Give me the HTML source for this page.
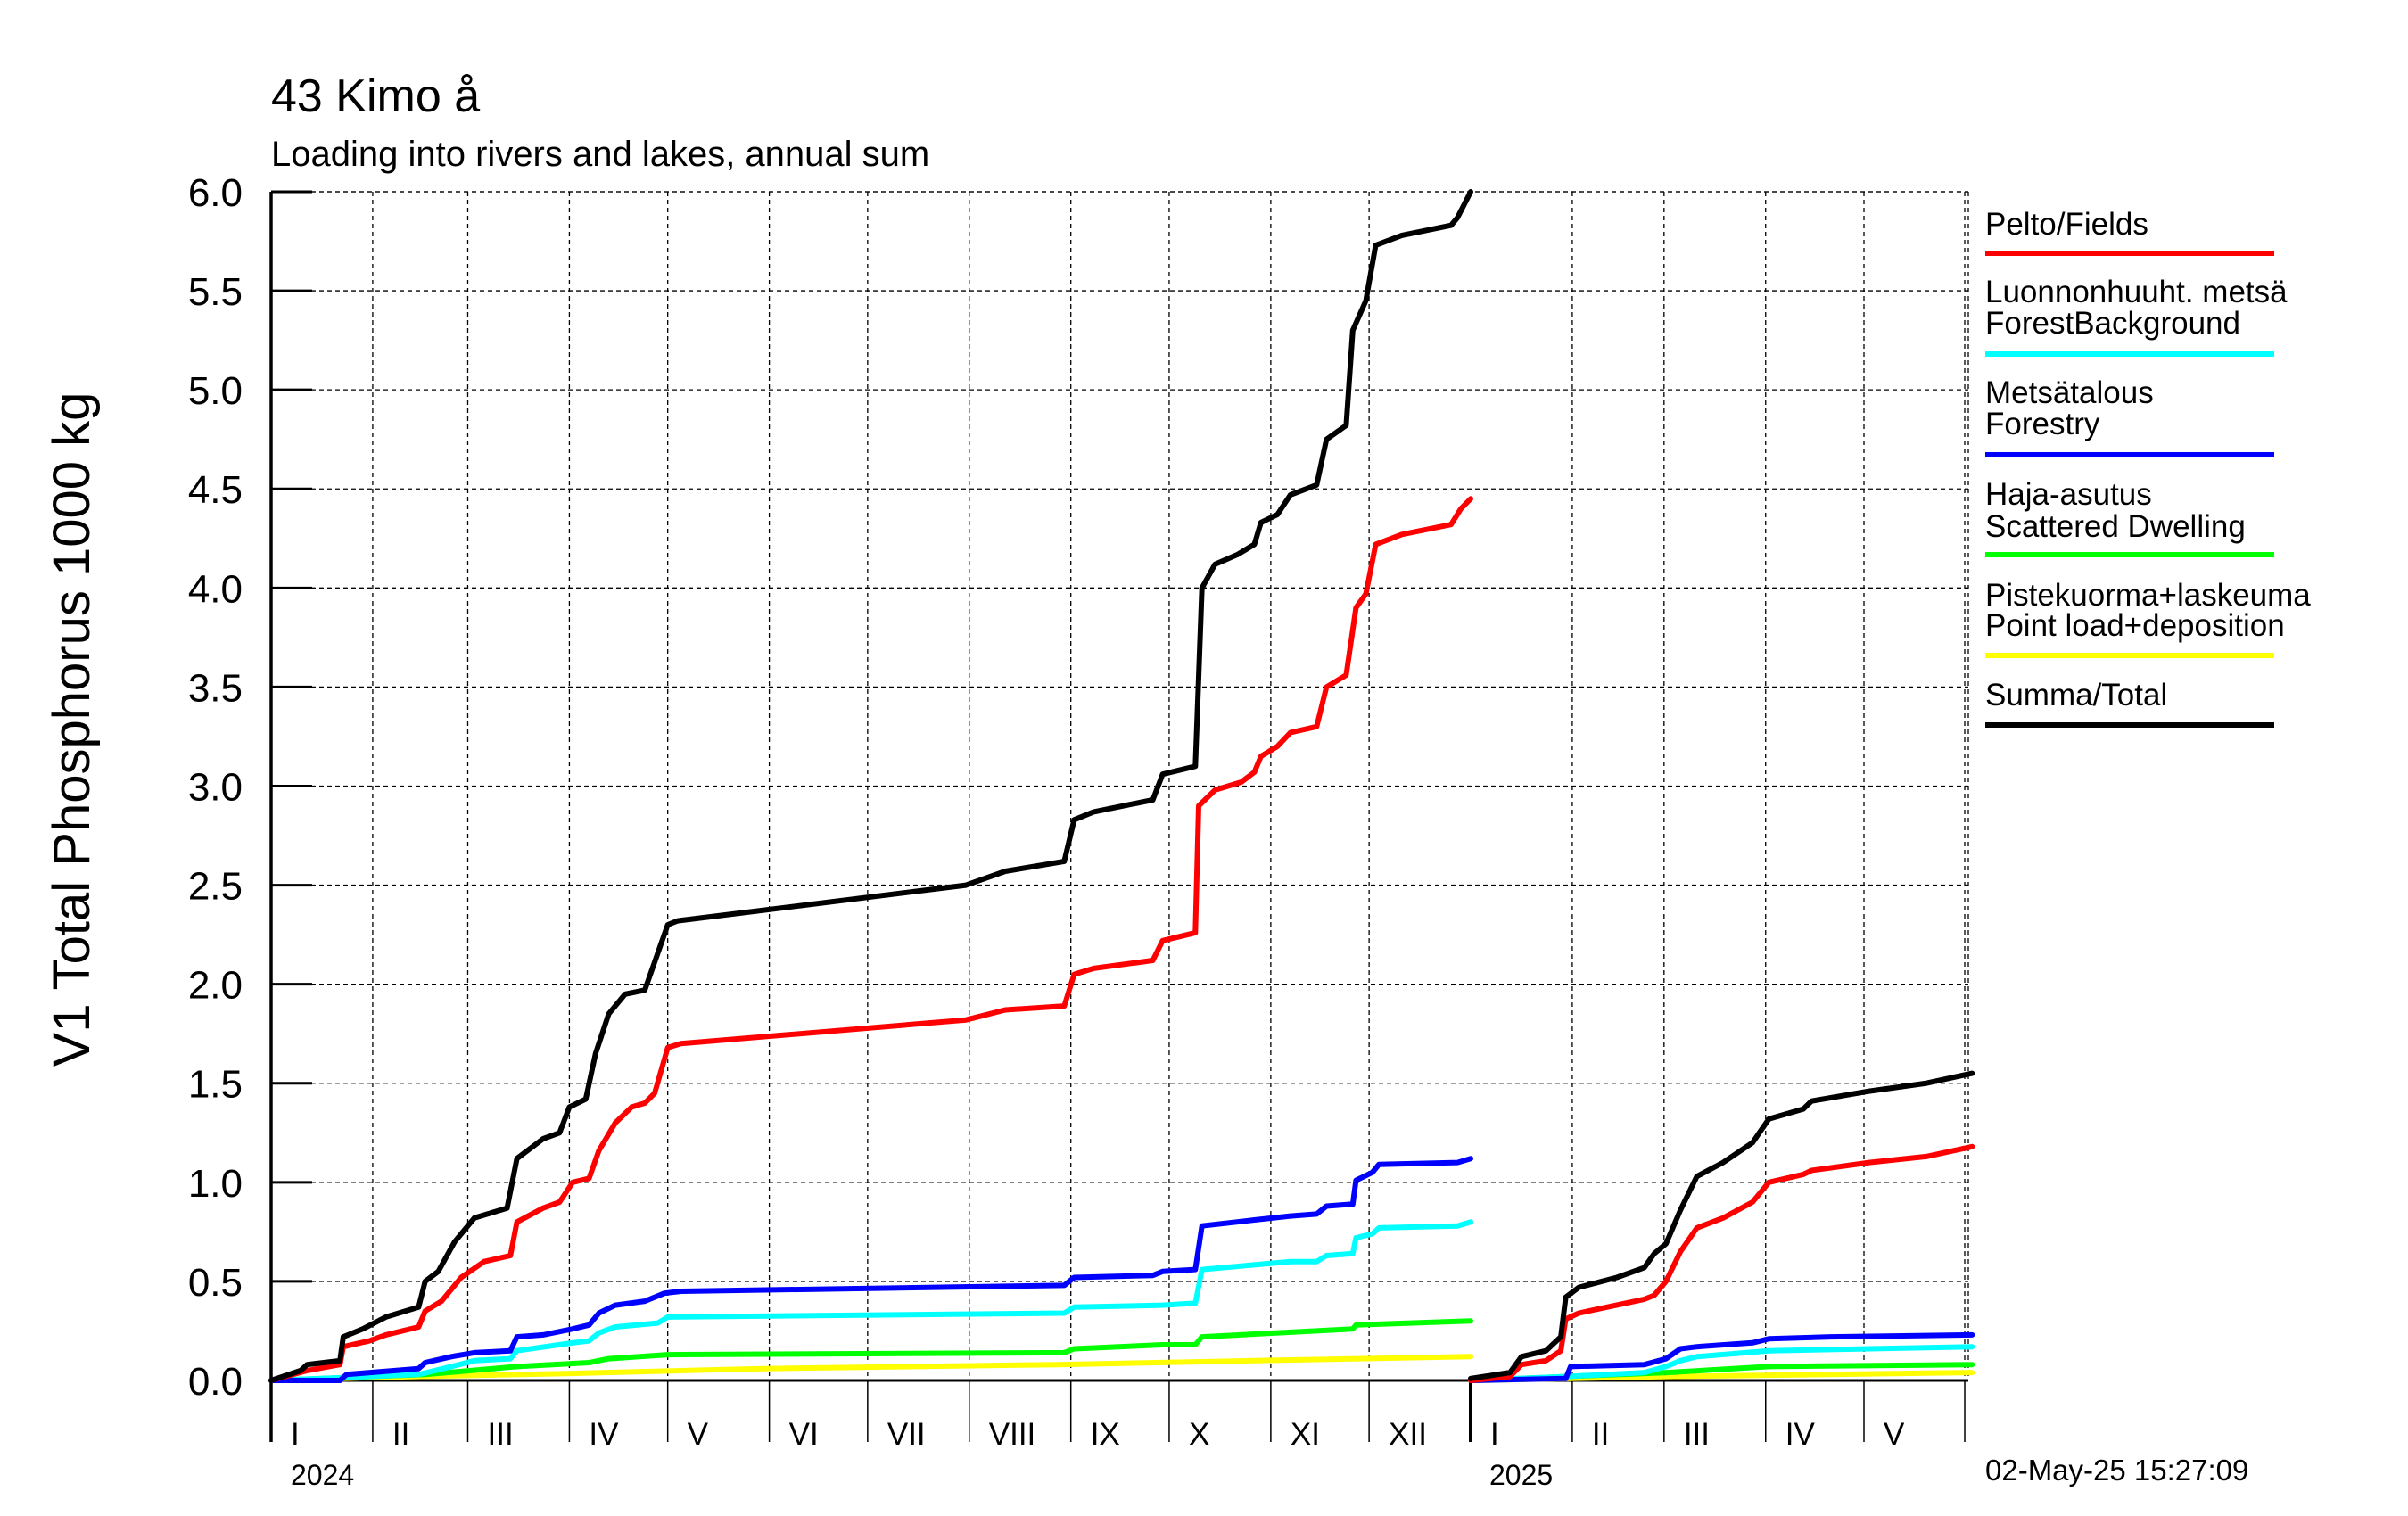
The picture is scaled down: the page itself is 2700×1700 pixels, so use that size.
<!DOCTYPE html>
<html><head><meta charset="utf-8"><style>
html,body{margin:0;padding:0;background:#fff}
svg{display:block}
text{font-family:"Liberation Sans",sans-serif;fill:#000}
</style></head><body>
<svg id="chart" width="2700" height="1700" viewBox="0 0 2700 1700" xmlns="http://www.w3.org/2000/svg">
<text x="304" y="125" font-size="52">43 Kimo å</text>
<text x="304" y="186" font-size="40">Loading into rivers and lakes, annual sum</text>
<text transform="translate(100,818) rotate(-90)" text-anchor="middle" font-size="58">V1 Total Phosphorus 1000 kg</text>
<g id="grid"></g>
<g id="axes"></g>
<g id="series"></g>
<g id="legend"></g>
<text x="2226" y="1660" font-size="33">02-May-25 15:27:09</text>
</svg>
<script>
const yTicks = ["0.0","0.5","1.0","1.5","2.0","2.5","3.0","3.5","4.0","4.5","5.0","5.5","6.0"];
const months = ["I","II","III","IV","V","VI","VII","VIII","IX","X","XI","XII"];
const monthDays2024 = [31,29,31,30,31,30,31,31,30,31,30,31];
const monthDays2025 = [31,28,31,30,31];
const years = ["2024","2025"];
// series 2024: [day, value]
const total2024 = [[0,0],[9,0.05],[11,0.08],[21,0.1],[22,0.22],[28,0.26],[35,0.32],[45,0.37],[47,0.5],[51,0.55],[56,0.7],[62,0.82],[72,0.87],[75,1.12],[83,1.22],[88,1.25],[91,1.38],[96,1.42],[99,1.65],[103,1.85],[108,1.95],[114,1.97],[121,2.3],[124,2.32],[212,2.5],[224,2.57],[242,2.62],[245,2.83],[251,2.87],[269,2.93],[272,3.06],[282,3.1],[284,4.0],[288,4.12],[295,4.17],[300,4.22],[302,4.33],[307,4.37],[311,4.47],[319,4.52],[322,4.75],[328,4.82],[330,5.3],[334,5.45],[337,5.73],[345,5.78],[360,5.83],[362,5.87],[366,6.0]];
const fields2024 = [[0,0],[11,0.05],[21,0.08],[22,0.17],[30,0.2],[35,0.23],[45,0.27],[47,0.35],[52,0.4],[58,0.52],[65,0.6],[73,0.63],[75,0.8],[83,0.87],[88,0.9],[92,1.0],[97,1.02],[100,1.16],[105,1.3],[110,1.38],[114,1.4],[117,1.45],[121,1.68],[125,1.7],[212,1.82],[224,1.87],[242,1.89],[245,2.05],[251,2.08],[269,2.12],[272,2.22],[282,2.26],[283,2.9],[288,2.98],[296,3.02],[300,3.07],[302,3.15],[307,3.2],[311,3.27],[319,3.3],[322,3.5],[328,3.56],[331,3.9],[334,3.97],[337,4.22],[345,4.27],[360,4.32],[363,4.4],[366,4.45]];
const forestry2024 = [[0,0],[21,0],[23,0.03],[45,0.06],[47,0.09],[55,0.12],[62,0.14],[73,0.15],[75,0.22],[83,0.23],[92,0.26],[97,0.28],[100,0.34],[105,0.38],[114,0.4],[120,0.44],[125,0.45],[242,0.48],[245,0.52],[269,0.53],[272,0.55],[282,0.56],[284,0.78],[300,0.81],[311,0.83],[319,0.84],[322,0.88],[330,0.89],[331,1.01],[336,1.05],[338,1.09],[362,1.1],[366,1.12]];
const background2024 = [[0,0],[45,0.03],[55,0.07],[62,0.1],[73,0.11],[75,0.15],[92,0.19],[97,0.2],[100,0.24],[105,0.27],[118,0.29],[121,0.32],[242,0.34],[245,0.37],[272,0.38],[282,0.39],[284,0.56],[311,0.6],[319,0.6],[322,0.63],[330,0.64],[331,0.72],[336,0.74],[338,0.77],[362,0.78],[366,0.8]];
const dwelling2024 = [[0,0],[47,0.03],[75,0.07],[97,0.09],[103,0.11],[121,0.13],[242,0.14],[245,0.16],[272,0.18],[282,0.18],[284,0.22],[330,0.26],[331,0.28],[366,0.3]];
const point2024 = [[0,0],[30,0.015],[90,0.035],[150,0.06],[240,0.08],[300,0.1],[366,0.12]];
// series 2025
const total2025 = [[0,0.01],[12,0.04],[15.5,0.12],[23,0.15],[27.5,0.22],[29,0.42],[33,0.47],[44.6,0.52],[53,0.57],[56,0.64],[59.6,0.69],[64,0.86],[69,1.03],[77,1.1],[86,1.2],[91,1.32],[101.5,1.37],[104,1.41],[121.6,1.46],[139,1.5],[153,1.55]];
const fields2025 = [[0,0],[12,0.02],[15.5,0.08],[23,0.1],[27.5,0.15],[29,0.31],[33,0.34],[53,0.41],[56,0.43],[59.6,0.5],[64,0.65],[69,0.77],[77,0.82],[86,0.9],[91,1.0],[101.5,1.04],[104,1.06],[121.6,1.1],[139,1.13],[153,1.18]];
const forestry2025 = [[0,0],[29,0.01],[30.5,0.07],[53,0.08],[59.6,0.11],[64,0.16],[69,0.17],[86,0.19],[91,0.21],[110,0.22],[153,0.23]];
const background2025 = [[0,0],[29,0.02],[53,0.04],[59.6,0.07],[64,0.1],[69,0.12],[91,0.15],[153,0.17]];
const dwelling2025 = [[0,0],[29,0.02],[60,0.04],[91,0.07],[153,0.08]];
const point2025 = [[0,0],[60,0.02],[153,0.04]];
const legendLabels = [["Pelto/Fields"],["Luonnonhuuht. metsä","ForestBackground"],["Metsätalous","Forestry"],["Haja-asutus","Scattered Dwelling"],["Pistekuorma+laskeuma","Point load+deposition"],["Summa/Total"]];

const NS="http://www.w3.org/2000/svg";
const X0=304, PXD=3.675, X25=1649, XEND=2207, Y0=1548, PXV=222.17, YTOP=215, YBOT=1617;
function x24(d){return X0+d*PXD;}
function x25(d){return X25+d*PXD;}
function yv(v){return Y0-v*PXV;}
function mk(tag,attrs,parent){const e=document.createElementNS(NS,tag);for(const k in attrs)e.setAttribute(k,attrs[k]);parent.appendChild(e);return e;}
const grid=document.getElementById('grid'), axes=document.getElementById('axes'), ser=document.getElementById('series'), leg=document.getElementById('legend');

// horizontal grid + y ticks
yTicks.forEach((t,i)=>{
  const v=parseFloat(t), y=yv(v);
  if(v>0){const l=mk('line',{x1:X0,x2:XEND,y1:y,y2:y,stroke:'#000','stroke-width':1.3,'stroke-dasharray':'5,4'},grid);
  
  }
  const tk=mk('line',{x1:X0,x2:X0+46,y1:y,y2:y,stroke:'#000','stroke-width':3},axes);
  
  
  const tx=mk('text',{x:272,y:y+16,'text-anchor':'end','font-size':44},axes);
  tx.textContent=t;
  
  
});
function monthAxis(xf,days,labels){
  let d=0;
  days.forEach((n,i)=>{
    const xs=xf(d);
    if(i>0){
      const g=mk('line',{x1:xs,x2:xs,y1:YTOP,y2:Y0,stroke:'#000','stroke-width':1.3,'stroke-dasharray':'5,4'},grid);
      
      
      const t=mk('line',{x1:xs,x2:xs,y1:Y0,y2:YBOT,stroke:'#000','stroke-width':1.5},axes);
      
      
    }
    const lb=mk('text',{x:xs+22,y:1620,'font-size':35},axes);
    lb.textContent=labels[i];
    
    
    d+=n;
  });
}
monthAxis(x24,monthDays2024,months);
monthAxis(x25,monthDays2025,months);
// right boundary
[2203,2207].forEach(xx=>{const r=mk('line',{x1:xx,x2:xx,y1:YTOP,y2:Y0,stroke:'#000','stroke-width':1.3,'stroke-dasharray':'5,4'},grid);

});
const rt=mk('line',{x1:2203,x2:2203,y1:Y0,y2:YBOT,stroke:'#000','stroke-width':1.5},axes);


// top border dashed
const tb=mk('line',{x1:X0,x2:XEND,y1:YTOP,y2:YTOP,stroke:'#000','stroke-width':1.3,'stroke-dasharray':'5,4'},grid);


// main axes
const ya=mk('line',{x1:X0,x2:X0,y1:YTOP,y2:YBOT,stroke:'#000','stroke-width':3.5},axes);


const xa=mk('line',{x1:X0,x2:XEND,y1:Y0,y2:Y0,stroke:'#000','stroke-width':3},axes);


const ys=mk('line',{x1:X25,x2:X25,y1:Y0,y2:YBOT,stroke:'#000','stroke-width':4},axes);


const yl1=mk('text',{x:326,y:1665,'font-size':32},axes);yl1.textContent=years[0];


const yl2=mk('text',{x:1670,y:1665,'font-size':32},axes);yl2.textContent=years[1];



function drawSeries(data,xf,color,name){
  const pts=data.map(p=>xf(p[0]).toFixed(1)+','+yv(p[1]).toFixed(1)).join(' ');
  const pl=mk('polyline',{points:pts,fill:'none',stroke:color,'stroke-width':6,'stroke-linejoin':'round','stroke-linecap':'round'},ser);
  
  
}
const colors=['#ff0000','#00ffff','#0000ff','#00ff00','#ffff00','#000000'];
[[point2024,point2025,4,'point-load'],[dwelling2024,dwelling2025,3,'scattered-dwelling'],[background2024,background2025,1,'forest-background'],[forestry2024,forestry2025,2,'forestry'],[fields2024,fields2025,0,'fields'],[total2024,total2025,5,'total']].forEach(s=>{
  drawSeries(s[0],x24,colors[s[2]],s[3]+'-2024-line');
  drawSeries(s[1],x25,colors[s[2]],s[3]+'-2025-line');
});
// legend
const legTextY=[[263],[339,374],[452,487],[566,602],[679,713],[791]];
const legLineY=[284,397,510,622,735,813];
legendLabels.forEach((lines,i)=>{
  const g=mk('g',{},leg);
  
  
  lines.forEach((s,j)=>{const t=mk('text',{x:2226,y:legTextY[i][j],'font-size':35},g);t.textContent=s;});
  mk('line',{x1:2226,x2:2550,y1:legLineY[i],y2:legLineY[i],stroke:colors[i],'stroke-width':6},g);
});
</script>
</body></html>
